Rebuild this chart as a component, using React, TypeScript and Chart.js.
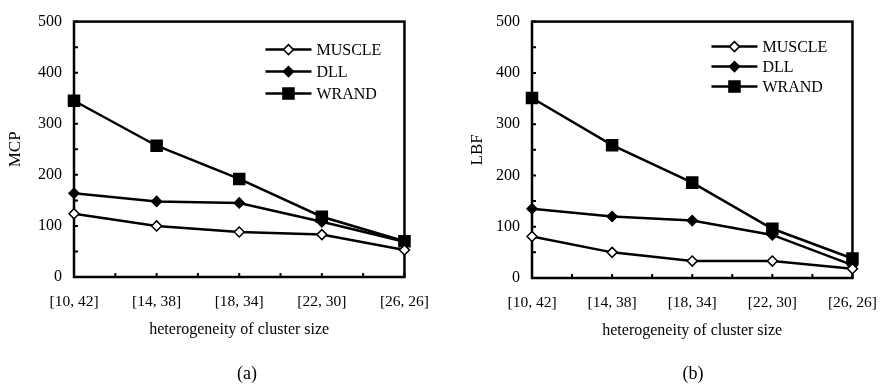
import React, { useEffect, useRef } from "react";
import { Chart, registerables } from "chart.js";

Chart.register(...registerables);

const categories = ["[10, 42]", "[14, 38]", "[18, 34]", "[22, 30]", "[26, 26]"];
const seriesNames = ["MUSCLE", "DLL", "WRAND"];
const mcpMuscle = [124, 100, 88, 83, 53];
const mcpDll = [164, 148, 145, 108, 69];
const mcpWrand = [345, 257, 192, 118, 70];
const lbfMuscle = [81, 50, 33, 33, 18];
const lbfDll = [135, 120, 112, 84, 25];
const lbfWrand = [351, 259, 186, 96, 38];
const yMin = 0;
const yMax = 500;
const yStep = 100;
const xTitle = "heterogeneity of cluster size";

const FONT = "'Liberation Serif', 'Times New Roman', serif";

function drawMarker(ctx: CanvasRenderingContext2D, style: string, x: number, y: number, r: number, fill: string) {
  ctx.save();
  ctx.beginPath();
  if (style === "rect") {
    const s = r * Math.SQRT1_2;
    ctx.rect(x - s, y - s, 2 * s, 2 * s);
  } else {
    ctx.moveTo(x - r, y);
    ctx.lineTo(x, y - r);
    ctx.lineTo(x + r, y);
    ctx.lineTo(x, y + r);
    ctx.closePath();
  }
  ctx.fillStyle = fill;
  ctx.fill();
  ctx.lineWidth = 1.5;
  ctx.strokeStyle = "#000";
  ctx.stroke();
  ctx.restore();
}

const frameTicksPlugin = {
  id: "frameTicks",
  beforeDatasetsDraw(chart: any) {
    const { ctx, chartArea } = chart;
    const xs = chart.scales.x;
    const ys = chart.scales.y;
    ctx.save();
    ctx.strokeStyle = "#000";
    ctx.lineWidth = 2.5;
    ctx.strokeRect(chartArea.left, chartArea.top, chartArea.right - chartArea.left, chartArea.bottom - chartArea.top);
    ctx.lineWidth = 2;
    ctx.beginPath();
    for (let v = yMin; v <= yMax; v += yStep / 2) {
      const py = ys.getPixelForValue(v);
      ctx.moveTo(chartArea.left, py);
      ctx.lineTo(chartArea.left + 4, py);
    }
    const n = categories.length;
    for (let i = 0; i < n; i++) {
      const px = xs.getPixelForValue(i);
      ctx.moveTo(px, chartArea.bottom);
      ctx.lineTo(px, chartArea.bottom - 4);
      if (i < n - 1) {
        const pm = (px + xs.getPixelForValue(i + 1)) / 2;
        ctx.moveTo(pm, chartArea.bottom);
        ctx.lineTo(pm, chartArea.bottom - 4);
      }
    }
    ctx.stroke();
    ctx.restore();
  },
};

const boxLegendPlugin = {
  id: "boxLegend",
  afterDraw(chart: any, _args: any, opts: any) {
    const { ctx, chartArea } = chart;
    const x0 = chartArea.right - opts.fromRight;
    ctx.save();
    chart.data.datasets.forEach((ds: any, i: number) => {
      const y = chartArea.top + opts.firstRow + i * opts.rowGap;
      ctx.strokeStyle = "#000";
      ctx.lineWidth = 2.5;
      ctx.beginPath();
      ctx.moveTo(x0, y);
      ctx.lineTo(x0 + 46, y);
      ctx.stroke();
      drawMarker(ctx, ds.pointStyle, x0 + 23, y, ds.pointRadius, ds.pointBackgroundColor);
      ctx.fillStyle = "#000";
      ctx.font = `16px ${FONT}`;
      ctx.textBaseline = "middle";
      ctx.textAlign = "left";
      ctx.fillText(ds.label, x0 + 51, y + 1);
    });
    ctx.restore();
  },
};

type PanelProps = {
  left: number;
  yTitle: string;
  caption: string;
  captionX: number;
  muscle: number[];
  dll: number[];
  wrand: number[];
  padTop: number;
  padRight: number;
  padBottom: number;
  yWidth: number;
  yTitlePad: number;
  legend: { fromRight: number; firstRow: number; rowGap: number };
};

function Panel(p: PanelProps) {
  const ref = useRef<HTMLCanvasElement | null>(null);
  useEffect(() => {
    if (!ref.current) return;
    const mk = (label: string, data: number[], style: string, r: number, fill: string) => ({
      label,
      data,
      borderColor: "#000",
      borderWidth: 2.5,
      pointStyle: style,
      pointRadius: r,
      pointBackgroundColor: fill,
      pointBorderColor: "#000",
      pointBorderWidth: 1.5,
      tension: 0,
      fill: false,
    });
    const chart = new Chart(ref.current, {
      type: "line",
      data: {
        labels: categories,
        datasets: [
          mk(seriesNames[0], p.muscle, "rectRot", 5, "#fff"),
          mk(seriesNames[1], p.dll, "rectRot", 5, "#000"),
          mk(seriesNames[2], p.wrand, "rect", 7.8, "#000"),
        ],
      },
      options: {
        responsive: false,
        animation: false,
        events: [],
        layout: { padding: { top: p.padTop, right: p.padRight, left: 0, bottom: p.padBottom } },
        plugins: {
          legend: { display: false },
          tooltip: { enabled: false },
          title: { display: false },
          boxLegend: p.legend,
        } as any,
        scales: {
          x: {
            type: "category",
            offset: false,
            grid: { display: false, drawTicks: false },
            border: { display: false },
            ticks: { color: "#000", font: { family: FONT, size: 15.5 }, padding: 16, maxRotation: 0, autoSkip: false },
            title: {
              display: true,
              text: xTitle,
              color: "#000",
              font: { family: FONT, size: 16 },
              padding: { top: 0, bottom: 0 },
            },
            afterFit: (s: any) => {
              s.height = 62;
            },
          },
          y: {
            min: yMin,
            max: yMax,
            grid: { display: false, drawTicks: false },
            border: { display: false },
            ticks: { stepSize: yStep, color: "#000", font: { family: FONT, size: 16 }, padding: 12 },
            title: {
              display: true,
              text: p.yTitle,
              color: "#000",
              font: { family: FONT, size: 17 },
              padding: { top: p.yTitlePad, bottom: 0 },
            },
            afterFit: (s: any) => {
              s.width = p.yWidth;
            },
          },
        },
      } as any,
      plugins: [frameTicksPlugin, boxLegendPlugin],
    });
    return () => chart.destroy();
  }, []);
  return (
    <div style={{ position: "absolute", left: p.left, top: 0, width: 445, height: 389 }}>
      <canvas ref={ref} width={445} height={389} style={{ display: "block" }} />
      <div
        style={{
          position: "absolute",
          left: p.captionX - p.left - 40,
          width: 80,
          top: 362,
          textAlign: "center",
          fontFamily: FONT,
          fontSize: 18,
          lineHeight: "22px",
          color: "#000",
        }}
      >
        {p.caption}
      </div>
    </div>
  );
}

export default function App() {
  return (
    <div style={{ position: "absolute", left: 0, top: 0, width: 893, height: 389, background: "#fff" }}>
      <Panel
        left={0}
        yTitle="MCP"
        caption="(a)"
        captionX={247}
        muscle={mcpMuscle}
        dll={mcpDll}
        wrand={mcpWrand}
        padTop={14}
        padRight={34}
        padBottom={50}
        yWidth={74}
        yTitlePad={5}
        legend={{ fromRight: 139, firstRow: 28, rowGap: 22 }}
      />
      <Panel
        left={448}
        yTitle="LBF"
        caption="(b)"
        captionX={693}
        muscle={lbfMuscle}
        dll={lbfDll}
        wrand={lbfWrand}
        padTop={20}
        padRight={28}
        padBottom={49}
        yWidth={84}
        yTitlePad={19}
        legend={{ fromRight: 141, firstRow: 25, rowGap: 20 }}
      />
    </div>
  );
}
